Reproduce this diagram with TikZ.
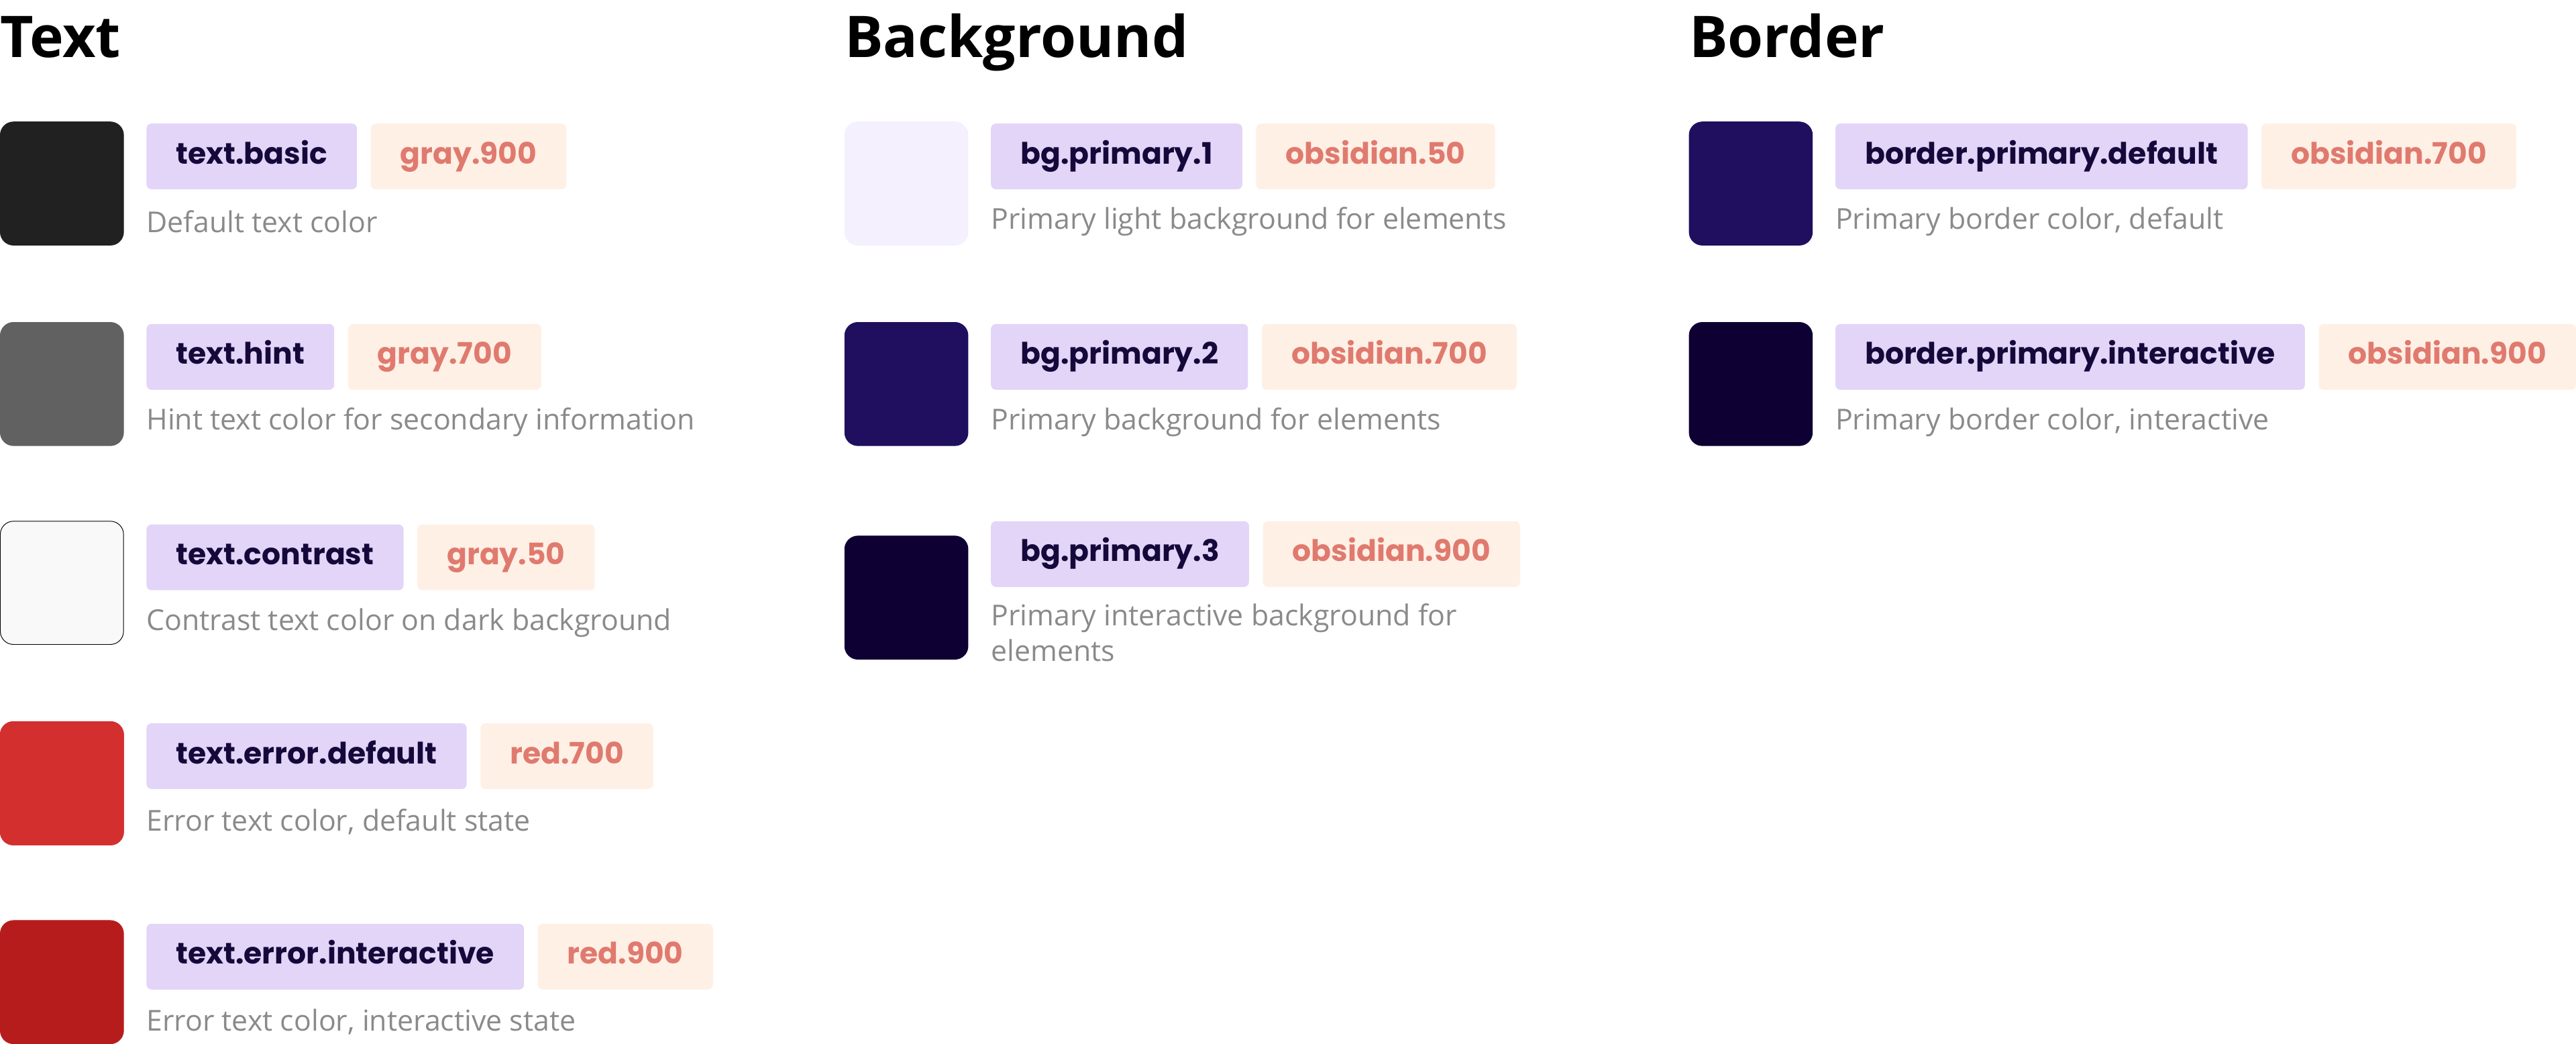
\documentclass[tikz,border=0pt]{standalone}
\usepackage{fontspec}
\setmainfont{Open Sans}
\newfontfamily\pop{Poppins}
\definecolor{chipA}{HTML}{E3D5F7}
\definecolor{chipAt}{HTML}{14093A}
\definecolor{chipB}{HTML}{FFF0E6}
\definecolor{chipBt}{HTML}{E07A6E}
\definecolor{desc}{HTML}{8A8A8A}
\begin{document}
\begin{tikzpicture}[x=1pt,y=-1pt,
  sw/.style={rounded corners=8pt,minimum width=75pt,minimum height=75pt,anchor=north west,inner sep=0pt},
  ca/.style={fill=chipA,text=chipAt,font=\pop\bfseries\fontsize{18}{20}\selectfont,rounded corners=3pt,minimum height=40pt,inner xsep=18pt,inner ysep=0pt,anchor=north west,text height=13pt,text depth=4pt},
  cb/.style={fill=chipB,text=chipBt,font=\pop\bfseries\fontsize{18}{20}\selectfont,rounded corners=3pt,minimum height=40pt,inner xsep=18pt,inner ysep=0pt,anchor=north west,text height=13pt,text depth=4pt},
  ds/.style={text=desc,font=\fontsize{17.5}{22}\selectfont,anchor=west,inner sep=0pt,align=left},
  hd/.style={font=\bfseries\fontsize{35}{40}\selectfont,anchor=base west,inner sep=0pt}]
\useasboundingbox (0,0) rectangle (1568,635);
\newcommand\tokrow[9]{% name, x, y, fill, draw, label, value, desc, chipy
  \node[sw,fill=#4,draw=#5] (#1s) at (#2,#3) {};
  \node[ca] (#1a) at (#2+89,#9) {#6};
  \node[cb] (#1b) at ([xshift=8pt]#1a.north east) {#7};
  \node[ds] (#1d) at (#2+89,#9+60) {#8};
}
\node[hd] (h1) at (0,35) {Text};
\node[hd] (h2) at (514,35) {Background};
\node[hd] (h3) at (1028,35) {Border};
\tokrow{t1}{0}{74}{black!87}{black!87}{text.basic}{gray.900}{Default text color}{75}
\tokrow{t2}{0}{196}{black!62}{black!62}{text.hint}{gray.700}{Hint text color for secondary information}{197}
\tokrow{t3}{0}{317}{black!2.5}{black}{text.contrast}{gray.50}{Contrast text color on dark background}{319}
\tokrow{t4}{0}{439}{red!70!black!80!red}{red!70!black!80!red}{text.error.default}{red.700}{Error text color, default state}{440}
\definecolor{r7}{HTML}{D32F2F}\definecolor{r9}{HTML}{B71C1C}
\definecolor{o1}{HTML}{F4F0FD}\definecolor{o7}{HTML}{1F0F5E}\definecolor{o9}{HTML}{0E0033}
\fill[r7,rounded corners=8pt] (t4s.north west) rectangle (t4s.south east);
\tokrow{t5}{0}{560}{r9}{r9}{text.error.interactive}{red.900}{Error text color, interactive state}{562}
\tokrow{b1}{514}{74}{o1}{o1}{bg.primary.1}{obsidian.50}{Primary light background for elements}{75}
\tokrow{b2}{514}{196}{o7}{o7}{bg.primary.2}{obsidian.700}{Primary background for elements}{197}
\node[sw,fill=o9,draw=o9] (b3s) at (514,326) {};
\node[ca] (b3a) at (603,317) {bg.primary.3};
\node[cb] (b3b) at ([xshift=8pt]b3a.north east) {obsidian.900};
\node[ds,anchor=north west] (b3d) at (603,367) {Primary interactive background for\\elements};
\tokrow{r1}{1028}{74}{o7}{o7}{border.primary.default}{obsidian.700}{Primary border color, default}{75}
\tokrow{r2}{1028}{196}{o9}{o9}{border.primary.interactive}{obsidian.900}{Primary border color, interactive}{197}
\end{tikzpicture}
\end{document}
